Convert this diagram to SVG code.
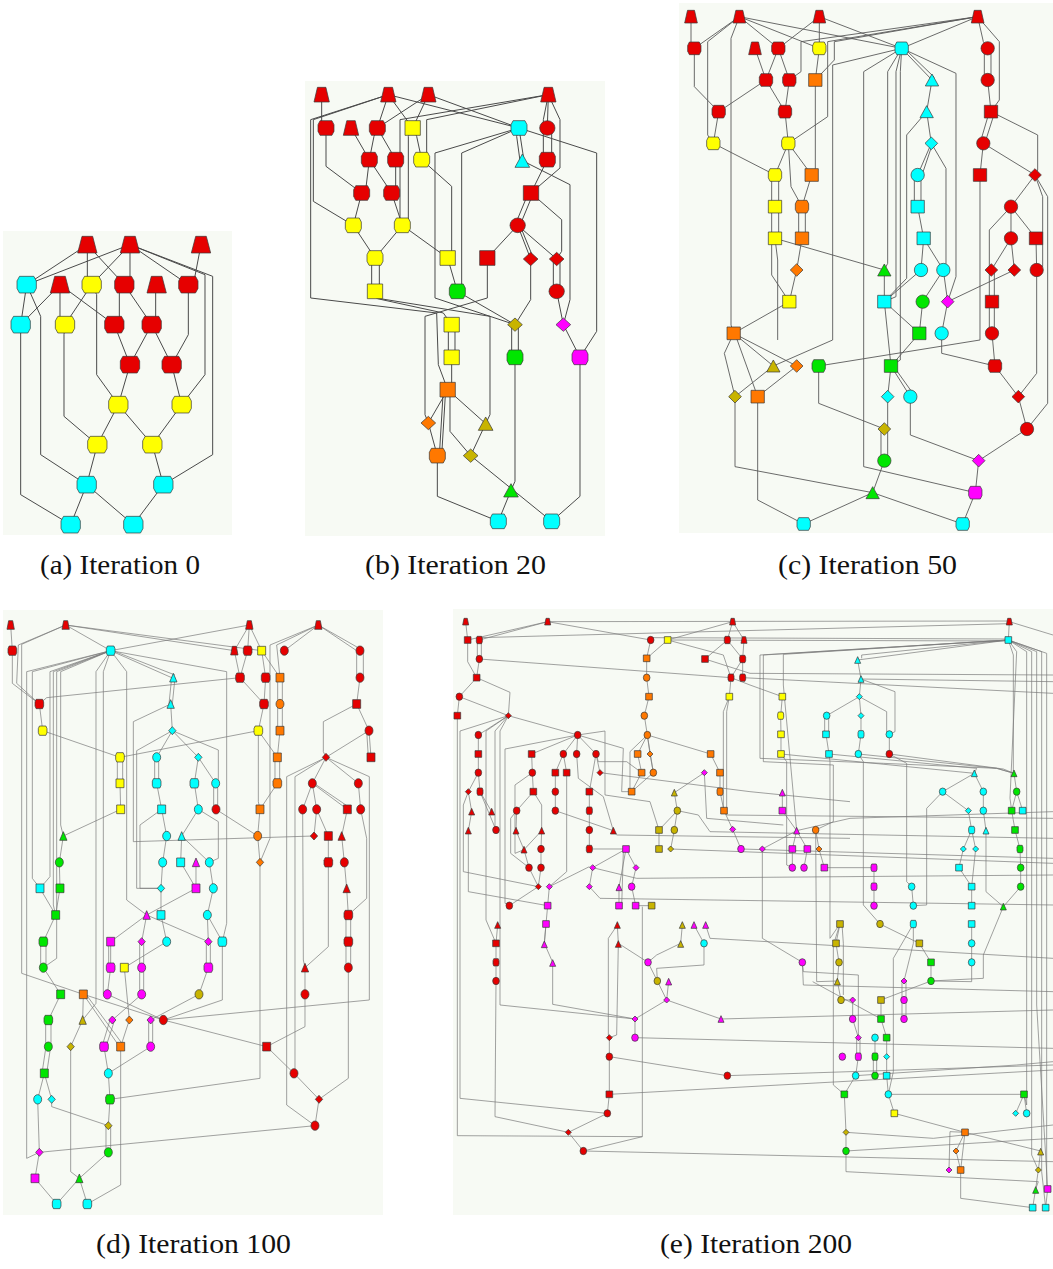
<svg xmlns="http://www.w3.org/2000/svg" xmlns:xlink="http://www.w3.org/1999/xlink" width="1053" height="1269" viewBox="0 0 1053 1269">
<style>
.bg{fill:#f7faf4}
.cap{font-family:"Liberation Serif","DejaVu Serif",serif;font-size:28px;fill:#111}
.ea polyline,.eb polyline{fill:none;stroke:#4a4a4a;stroke-width:1;vector-effect:non-scaling-stroke}
.ec polyline{fill:none;stroke:#5a5a5a;stroke-width:0.9;vector-effect:non-scaling-stroke}
.ed polyline,.ee polyline{fill:none;stroke:#7a7a7a;stroke-width:0.7;vector-effect:non-scaling-stroke}
.R{fill:#e60000}.Y{fill:#ffff00}.C{fill:#00ffff}.O{fill:#ff7800}.G{fill:#00e600}.M{fill:#ff00ff}.L{fill:#c8b400}
</style>
<defs>
<path id="bT" d="M-0.55,-1H0.55L1,1H-1Z" stroke="#3a3a3a" stroke-width="0.7" vector-effect="non-scaling-stroke"/>
<path id="bH" d="M-0.74,-1H0.74L1,-0.45V0.45L0.74,1H-0.74L-1,0.45V-0.45Z" stroke="#3a3a3a" stroke-width="0.7" vector-effect="non-scaling-stroke"/>
<rect id="bS" x="-1" y="-1" width="2" height="2" stroke="#3a3a3a" stroke-width="0.7" vector-effect="non-scaling-stroke"/>
<circle id="bC" r="1" stroke="#3a3a3a" stroke-width="0.7" vector-effect="non-scaling-stroke"/>
<path id="bD" d="M0,-1L1,0L0,1L-1,0Z" stroke="#3a3a3a" stroke-width="0.7" vector-effect="non-scaling-stroke"/>
<path id="bA" d="M0,-1L1,1H-1Z" stroke="#3a3a3a" stroke-width="0.7" vector-effect="non-scaling-stroke"/>
<use id="aT" href="#bT" transform="scale(29,25)"/>
<use id="aH" href="#bH" transform="scale(29,25)"/>
<use id="pT" href="#bT" transform="scale(23,22)"/>
<use id="pH" href="#bH" transform="scale(24,22)"/>
<use id="pS" href="#bS" transform="scale(23,22)"/>
<use id="pC" href="#bC" transform="scale(23,22)"/>
<use id="pD" href="#bD" transform="scale(22,20)"/>
<use id="pA" href="#bA" transform="scale(22,20)"/>
<use id="cT" href="#bT" transform="scale(19,19)"/>
<use id="cH" href="#bH" transform="scale(20,19)"/>
<use id="cS" href="#bS" transform="scale(20,19)"/>
<use id="cC" href="#bC" transform="scale(20,20)"/>
<use id="cD" href="#bD" transform="scale(19,19)"/>
<use id="cA" href="#bA" transform="scale(20,18)"/>
<use id="dT" href="#bT" transform="scale(11,13)"/>
<use id="dH" href="#bH" transform="scale(13,14)"/>
<use id="dS" href="#bS" transform="scale(12,13)"/>
<use id="dC" href="#bC" transform="scale(12,14)"/>
<use id="dD" href="#bD" transform="scale(11,12)"/>
<use id="dA" href="#bA" transform="scale(11,13)"/>
<use id="eT" href="#bT" transform="scale(9,10)"/>
<use id="eH" href="#bH" transform="scale(9,11)"/>
<use id="eS" href="#bS" transform="scale(10,10)"/>
<use id="eC" href="#bC" transform="scale(10,11)"/>
<use id="eD" href="#bD" transform="scale(9,9)"/>
<use id="eA" href="#bA" transform="scale(9,10)"/>
</defs>

<rect class="bg" x="3" y="231" width="229" height="304"/>
<rect class="bg" x="305" y="81" width="300" height="455"/>
<rect class="bg" x="679" y="3" width="374" height="530"/>
<rect class="bg" x="3" y="610" width="380" height="605"/>
<rect class="bg" x="453" y="609" width="600" height="606"/>

<!-- Panel A -->
<g id="panel-a" transform="translate(0,228) scale(0.3333333)">
<g id="edges-a" class="ea">
<polyline points="262,50 80,170"/><polyline points="390,50 80,170"/><polyline points="262,50 262,170"/><polyline points="262,50 373,170"/>
<polyline points="390,50 275,170"/><polyline points="390,50 390,170"/><polyline points="390,50 565,170"/>
<polyline points="390,50 615,140 615,440 545,530"/><polyline points="390,50 638,145 638,680 490,770"/>
<polyline points="603,50 580,170"/><polyline points="80,170 62,290"/><polyline points="80,170 122,265 122,680 260,770"/>
<polyline points="180,170 62,290"/><polyline points="180,170 180,290"/><polyline points="180,170 343,290"/>
<polyline points="275,170 195,290"/><polyline points="275,170 290,200 290,440 355,530"/>
<polyline points="358,170 358,290"/><polyline points="373,170 455,290"/><polyline points="467,170 467,290"/>
<polyline points="565,170 565,320 515,410"/><polyline points="62,290 62,800 212,890"/>
<polyline points="195,290 192,320 192,565 292,650"/><polyline points="343,290 390,410"/><polyline points="455,290 390,410"/>
<polyline points="455,290 515,410"/><polyline points="390,410 355,530"/><polyline points="515,410 545,530"/>
<polyline points="355,530 292,650"/><polyline points="355,530 457,650"/><polyline points="545,530 457,650"/>
<polyline points="292,650 260,770"/><polyline points="457,650 490,770"/><polyline points="260,770 212,890"/>
<polyline points="260,770 400,890"/><polyline points="490,770 400,890"/>
</g>
<g id="a1" class="R"><use href="#aT" x="262" y="50"/></g><g id="a2" class="R"><use href="#aT" x="390" y="50"/></g><g id="a3" class="R"><use href="#aT" x="603" y="50"/></g>
<g id="a4" class="C"><use href="#aH" x="80" y="170"/></g><g id="a5" class="R"><use href="#aT" x="180" y="170"/></g><g id="a6" class="Y"><use href="#aH" x="275" y="170"/></g>
<g id="a7" class="R"><use href="#aH" x="373" y="170"/></g><g id="a8" class="R"><use href="#aT" x="470" y="170"/></g><g id="a9" class="R"><use href="#aH" x="565" y="170"/></g>
<g id="a10" class="C"><use href="#aH" x="62" y="290"/></g><g id="a11" class="Y"><use href="#aH" x="195" y="290"/></g><g id="a12" class="R"><use href="#aH" x="343" y="290"/></g><g id="a13" class="R"><use href="#aH" x="455" y="290"/></g>
<g id="a14" class="R"><use href="#aH" x="390" y="410"/></g><g id="a15" class="R"><use href="#aH" x="515" y="410"/></g>
<g id="a16" class="Y"><use href="#aH" x="355" y="530"/></g><g id="a17" class="Y"><use href="#aH" x="545" y="530"/></g>
<g id="a18" class="Y"><use href="#aH" x="292" y="650"/></g><g id="a19" class="Y"><use href="#aH" x="457" y="650"/></g>
<g id="a20" class="C"><use href="#aH" x="260" y="770"/></g><g id="a21" class="C"><use href="#aH" x="490" y="770"/></g>
<g id="a22" class="C"><use href="#aH" x="212" y="890"/></g><g id="a23" class="C"><use href="#aH" x="400" y="890"/></g>
</g>

<!-- Panel B -->
<g id="panel-b" transform="translate(300,78) scale(0.3333333)">
<g id="edges-b" class="eb">
<polyline points="65,50 65,150"/><polyline points="265,50 32,125 32,660 410,705 415,860 443,935"/>
<polyline points="265,50 40,125 40,370 160,442"/><polyline points="265,50 232,150"/><polyline points="265,50 338,150"/>
<polyline points="265,50 657,150"/><polyline points="385,50 232,150"/><polyline points="385,50 338,150"/><polyline points="385,50 657,150"/>
<polyline points="745,50 300,125 300,425 307,442"/><polyline points="745,50 380,125 380,230 365,245"/>
<polyline points="745,50 742,150"/><polyline points="745,50 780,125 780,270 693,345"/>
<polyline points="745,50 730,125 730,245"/><polyline points="755,150 755,245"/>
<polyline points="657,150 650,175 660,248"/><polyline points="657,150 672,248"/>
<polyline points="657,150 405,225 405,660 645,740"/><polyline points="657,150 485,225 485,620 472,640"/>
<polyline points="657,150 890,225 890,760 840,838"/><polyline points="667,248 810,320 810,665 790,740"/>
<polyline points="742,245 693,345"/><polyline points="685,345 645,442"/><polyline points="700,345 660,442"/>
<polyline points="693,345 785,425 785,520 770,543"/><polyline points="653,442 562,540"/><polyline points="653,442 692,543"/>
<polyline points="660,442 700,540"/><polyline points="653,442 770,543"/><polyline points="760,543 760,640"/><polyline points="780,543 780,640"/>
<polyline points="770,640 790,740"/><polyline points="692,543 692,665 645,740"/>
<polyline points="562,540 562,660 375,715 375,1010 385,1035"/><polyline points="225,640 228,660 570,715 570,1010 557,1037"/>
<polyline points="225,640 232,662 430,705 455,740"/><polyline points="160,442 225,540"/><polyline points="307,442 225,540"/>
<polyline points="307,442 443,540"/><polyline points="215,540 215,640"/><polyline points="238,540 238,640"/>
<polyline points="443,540 472,640"/><polyline points="365,245 455,325 455,520 443,540"/>
<polyline points="338,150 325,175 325,425 307,442"/><polyline points="338,150 350,175 365,245"/>
<polyline points="232,150 222,175 208,245"/><polyline points="232,150 287,245"/><polyline points="153,150 208,245"/>
<polyline points="78,150 78,265 185,345"/><polyline points="208,245 196,345"/><polyline points="208,245 275,345"/>
<polyline points="287,245 287,345"/><polyline points="185,345 160,442"/><polyline points="275,345 307,442"/>
<polyline points="472,640 645,740"/><polyline points="635,740 635,838"/><polyline points="655,740 655,838"/>
<polyline points="645,838 645,1210 633,1237"/><polyline points="790,740 840,838"/><polyline points="840,838 840,1255 755,1330"/>
<polyline points="445,740 445,838"/><polyline points="465,740 465,838"/><polyline points="455,838 455,935"/>
<polyline points="443,935 385,1035"/><polyline points="430,935 418,1133"/><polyline points="437,935 425,1133"/>
<polyline points="443,935 557,1037"/><polyline points="450,935 450,1060 512,1133"/><polyline points="385,1035 412,1133"/>
<polyline points="557,1037 512,1133"/><polyline points="512,1133 755,1330"/><polyline points="412,1133 412,1255 595,1330"/>
<polyline points="633,1237 595,1330"/>
</g>
<g id="b1" class="R"><use href="#pT" x="65" y="50"/></g><g id="b2" class="R"><use href="#pT" x="265" y="50"/></g><g id="b3" class="R"><use href="#pT" x="385" y="50"/></g><g id="b4" class="R"><use href="#pT" x="745" y="50"/></g>
<g id="b5" class="R"><use href="#pH" x="78" y="150"/></g><g id="b6" class="R"><use href="#pT" x="153" y="150"/></g><g id="b7" class="R"><use href="#pH" x="232" y="150"/></g>
<g id="b8" class="Y"><use href="#pS" x="338" y="150"/></g><g id="b9" class="C"><use href="#pH" x="657" y="150"/></g><g id="b10" class="R"><use href="#pC" x="742" y="150"/></g>
<g id="b11" class="R"><use href="#pH" x="208" y="245"/></g><g id="b12" class="R"><use href="#pH" x="287" y="245"/></g><g id="b13" class="Y"><use href="#pH" x="365" y="245"/></g>
<g id="b14" class="C"><use href="#pA" x="667" y="248"/></g><g id="b15" class="R"><use href="#pH" x="742" y="245"/></g>
<g id="b16" class="R"><use href="#pH" x="185" y="345"/></g><g id="b17" class="R"><use href="#pH" x="275" y="345"/></g><g id="b18" class="R"><use href="#pS" x="693" y="345"/></g>
<g id="b19" class="Y"><use href="#pH" x="160" y="442"/></g><g id="b20" class="Y"><use href="#pH" x="307" y="442"/></g><g id="b21" class="R"><use href="#pC" x="653" y="442"/></g>
<g id="b22" class="Y"><use href="#pH" x="225" y="540"/></g><g id="b23" class="Y"><use href="#pS" x="443" y="540"/></g><g id="b24" class="R"><use href="#pS" x="562" y="540"/></g>
<g id="b25" class="R"><use href="#pD" x="692" y="543"/></g><g id="b26" class="R"><use href="#pD" x="770" y="543"/></g>
<g id="b27" class="Y"><use href="#pS" x="225" y="640"/></g><g id="b28" class="G"><use href="#pH" x="472" y="640"/></g><g id="b29" class="R"><use href="#pC" x="770" y="640"/></g>
<g id="b30" class="Y"><use href="#pS" x="455" y="740"/></g><g id="b31" class="L"><use href="#pD" x="645" y="740"/></g><g id="b32" class="M"><use href="#pD" x="790" y="740"/></g>
<g id="b33" class="Y"><use href="#pS" x="455" y="838"/></g><g id="b34" class="G"><use href="#pH" x="645" y="838"/></g><g id="b35" class="M"><use href="#pH" x="840" y="838"/></g>
<g id="b36" class="O"><use href="#pS" x="443" y="935"/></g>
<g id="b37" class="O"><use href="#pD" x="385" y="1035"/></g><g id="b38" class="L"><use href="#pA" x="557" y="1037"/></g>
<g id="b39" class="O"><use href="#pH" x="412" y="1133"/></g><g id="b40" class="L"><use href="#pD" x="512" y="1133"/></g>
<g id="b41" class="G"><use href="#pA" x="633" y="1237"/></g>
<g id="b42" class="C"><use href="#pH" x="595" y="1330"/></g><g id="b43" class="C"><use href="#pH" x="755" y="1330"/></g>
</g>

<!-- Panel C -->
<g id="panel-c" transform="translate(676,0) scale(0.3333333)">
<g id="edges-c" class="ec">
<polyline points="45,50 45,145"/><polyline points="190,50 55,145"/><polyline points="190,50 95,125 95,405 112,430"/>
<polyline points="190,50 165,115 165,975 173,1000"/><polyline points="190,50 307,145"/><polyline points="190,50 677,145"/>
<polyline points="190,50 430,145"/><polyline points="430,50 307,145"/><polyline points="430,50 430,145"/><polyline points="430,50 677,145"/>
<polyline points="905,50 475,125 475,180 418,240"/><polyline points="905,50 375,125 375,215 340,240"/>
<polyline points="905,50 455,125 455,350 337,430"/><polyline points="905,50 677,145"/><polyline points="905,50 922,125 935,145"/>
<polyline points="905,50 970,125 970,300 945,335"/><polyline points="925,145 925,240"/><polyline points="945,145 945,240"/>
<polyline points="935,240 945,335"/><polyline points="55,145 55,260 128,335"/><polyline points="237,145 270,240"/>
<polyline points="307,145 270,240"/><polyline points="307,145 340,240"/><polyline points="270,240 128,335"/>
<polyline points="270,240 327,335"/><polyline points="340,240 327,335"/><polyline points="128,335 112,430"/>
<polyline points="327,335 337,430"/><polyline points="430,145 418,240"/><polyline points="418,240 418,505 407,525"/>
<polyline points="112,430 297,525"/><polyline points="337,430 297,525"/><polyline points="337,430 407,525"/>
<polyline points="337,430 345,560 378,620"/><polyline points="287,525 287,620"/><polyline points="308,525 308,620"/>
<polyline points="287,620 287,715"/><polyline points="308,620 308,715"/><polyline points="407,525 378,620"/>
<polyline points="368,620 368,715"/><polyline points="388,620 388,715"/><polyline points="297,715 625,810"/>
<polyline points="297,715 287,735 287,825 340,905"/><polyline points="378,715 362,810"/><polyline points="362,810 340,905"/>
<polyline points="340,905 173,1000"/><polyline points="677,145 470,195 470,1020 292,1098"/>
<polyline points="677,145 563,215 563,1400 898,1478"/><polyline points="677,145 635,215 635,790 625,810"/>
<polyline points="677,145 660,215 660,890 625,905"/><polyline points="677,145 673,215 673,1080 645,1098"/>
<polyline points="677,145 768,240"/><polyline points="690,150 775,232"/><polyline points="677,145 840,220 840,830 815,905"/>
<polyline points="752,335 692,405 692,835 625,905"/><polyline points="766,430 810,505 810,790 802,810"/>
<polyline points="768,240 752,335"/><polyline points="752,335 766,430"/><polyline points="766,430 725,525"/><polyline points="770,430 738,525"/>
<polyline points="715,525 715,620"/><polyline points="735,525 735,620"/><polyline points="725,620 743,715"/>
<polyline points="743,715 735,810"/><polyline points="743,715 802,810"/><polyline points="735,810 625,905"/><polyline points="802,810 815,905"/>
<polyline points="740,905 730,1000"/><polyline points="625,905 645,1098"/><polyline points="625,905 730,1000"/>
<polyline points="730,1000 645,1098"/><polyline points="645,1098 635,1190"/><polyline points="645,1098 703,1190"/><polyline points="652,1098 712,1182"/>
<polyline points="428,1098 428,1210 625,1287"/><polyline points="635,1190 635,1287"/><polyline points="615,1287 615,1382"/><polyline points="635,1287 635,1382"/>
<polyline points="625,1382 590,1478"/><polyline points="703,1190 703,1305 908,1382"/><polyline points="908,1382 898,1478"/>
<polyline points="1053,1287 908,1382"/><polyline points="1027,1190 1053,1287"/><polyline points="957,1098 1027,1190"/>
<polyline points="940,335 912,430"/><polyline points="955,340 928,425"/><polyline points="945,335 1085,405 1085,510 1077,525"/>
<polyline points="922,430 912,525"/><polyline points="922,430 1077,525"/><polyline points="912,525 912,1020 428,1098"/>
<polyline points="1077,525 1005,620"/><polyline points="1077,525 1115,590 1115,1210 1053,1287"/><polyline points="1077,525 1100,590 1100,800 1082,810"/>
<polyline points="1005,620 1005,715"/><polyline points="1005,620 1080,715"/><polyline points="1005,620 940,690 940,815 946,810"/>
<polyline points="1005,715 946,810"/><polyline points="1005,715 1015,810"/><polyline points="1080,715 1082,810"/>
<polyline points="940,810 940,905"/><polyline points="955,810 955,905"/><polyline points="1015,810 815,905"/>
<polyline points="940,905 940,1000"/><polyline points="955,905 955,1000"/><polyline points="948,1000 957,1098"/>
<polyline points="1082,810 1082,1120 1027,1190"/><polyline points="815,905 797,1000"/>
<polyline points="625,810 625,905"/><polyline points="740,905 802,810"/><polyline points="173,1000 292,1098"/><polyline points="173,1000 362,1098"/>
<polyline points="173,1000 145,1060 177,1190"/><polyline points="180,1010 245,1190"/><polyline points="292,1098 177,1190"/>
<polyline points="362,1098 245,1190"/><polyline points="177,1190 177,1400 590,1478"/><polyline points="245,1190 245,1500 383,1572"/>
<polyline points="590,1478 383,1572"/><polyline points="590,1478 860,1572"/><polyline points="898,1478 860,1572"/>
<polyline points="797,1000 797,1060 957,1098"/><polyline points="305,1020 305,780 297,715"/>
</g>
<g id="c1" class="R"><use href="#cT" x="45" y="50"/></g><g id="c2" class="R"><use href="#cT" x="190" y="50"/></g><g id="c3" class="R"><use href="#cT" x="430" y="50"/></g><g id="c4" class="R"><use href="#cT" x="905" y="50"/></g>
<g id="c5" class="R"><use href="#cH" x="55" y="145"/></g><g id="c6" class="R"><use href="#cT" x="237" y="145"/></g><g id="c7" class="R"><use href="#cH" x="307" y="145"/></g>
<g id="c8" class="Y"><use href="#cH" x="430" y="145"/></g><g id="c9" class="C"><use href="#cH" x="677" y="145"/></g><g id="c10" class="R"><use href="#cC" x="935" y="145"/></g>
<g id="c11" class="R"><use href="#cH" x="270" y="240"/></g><g id="c12" class="R"><use href="#cH" x="340" y="240"/></g><g id="c13" class="O"><use href="#cS" x="418" y="240"/></g>
<g id="c14" class="C"><use href="#cA" x="768" y="240"/></g><g id="c15" class="R"><use href="#cC" x="935" y="240"/></g>
<g id="c16" class="R"><use href="#cH" x="128" y="335"/></g><g id="c17" class="R"><use href="#cH" x="327" y="335"/></g><g id="c18" class="C"><use href="#cA" x="752" y="335"/></g><g id="c19" class="R"><use href="#cS" x="945" y="335"/></g>
<g id="c20" class="Y"><use href="#cH" x="112" y="430"/></g><g id="c21" class="Y"><use href="#cH" x="337" y="430"/></g><g id="c22" class="C"><use href="#cD" x="766" y="430"/></g><g id="c23" class="R"><use href="#cC" x="922" y="430"/></g>
<g id="c24" class="Y"><use href="#cH" x="297" y="525"/></g><g id="c25" class="O"><use href="#cS" x="407" y="525"/></g><g id="c26" class="C"><use href="#cC" x="725" y="525"/></g>
<g id="c27" class="R"><use href="#cS" x="912" y="525"/></g><g id="c28" class="R"><use href="#cD" x="1077" y="525"/></g>
<g id="c29" class="Y"><use href="#cS" x="297" y="620"/></g><g id="c30" class="O"><use href="#cH" x="378" y="620"/></g><g id="c31" class="C"><use href="#cS" x="725" y="620"/></g><g id="c32" class="R"><use href="#cC" x="1005" y="620"/></g>
<g id="c33" class="Y"><use href="#cS" x="297" y="715"/></g><g id="c34" class="O"><use href="#cS" x="378" y="715"/></g><g id="c35" class="C"><use href="#cS" x="743" y="715"/></g>
<g id="c36" class="R"><use href="#cC" x="1005" y="715"/></g><g id="c37" class="R"><use href="#cS" x="1080" y="715"/></g>
<g id="c38" class="O"><use href="#cD" x="362" y="810"/></g><g id="c39" class="G"><use href="#cA" x="625" y="810"/></g><g id="c40" class="C"><use href="#cC" x="735" y="810"/></g>
<g id="c41" class="C"><use href="#cC" x="802" y="810"/></g><g id="c42" class="R"><use href="#cD" x="946" y="810"/></g><g id="c43" class="R"><use href="#cD" x="1015" y="810"/></g><g id="c44" class="R"><use href="#cC" x="1082" y="810"/></g>
<g id="c45" class="Y"><use href="#cS" x="340" y="905"/></g><g id="c46" class="C"><use href="#cS" x="625" y="905"/></g><g id="c47" class="G"><use href="#cC" x="740" y="905"/></g>
<g id="c48" class="M"><use href="#cD" x="815" y="905"/></g><g id="c49" class="R"><use href="#cS" x="948" y="905"/></g>
<g id="c50" class="O"><use href="#cS" x="173" y="1000"/></g><g id="c51" class="G"><use href="#cS" x="730" y="1000"/></g><g id="c52" class="C"><use href="#cC" x="797" y="1000"/></g><g id="c53" class="R"><use href="#cC" x="948" y="1000"/></g>
<g id="c54" class="L"><use href="#cA" x="292" y="1098"/></g><g id="c55" class="O"><use href="#cD" x="362" y="1098"/></g><g id="c56" class="G"><use href="#cH" x="428" y="1098"/></g>
<g id="c57" class="G"><use href="#cS" x="645" y="1098"/></g><g id="c58" class="R"><use href="#cH" x="957" y="1098"/></g>
<g id="c59" class="L"><use href="#cD" x="177" y="1190"/></g><g id="c60" class="O"><use href="#cS" x="245" y="1190"/></g><g id="c61" class="C"><use href="#cD" x="635" y="1190"/></g>
<g id="c62" class="C"><use href="#cC" x="703" y="1190"/></g><g id="c63" class="R"><use href="#cD" x="1027" y="1190"/></g>
<g id="c64" class="L"><use href="#cD" x="625" y="1287"/></g><g id="c65" class="R"><use href="#cC" x="1053" y="1287"/></g>
<g id="c66" class="G"><use href="#cC" x="625" y="1382"/></g><g id="c67" class="M"><use href="#cD" x="908" y="1382"/></g>
<g id="c68" class="G"><use href="#cA" x="590" y="1478"/></g><g id="c69" class="M"><use href="#cH" x="898" y="1478"/></g>
<g id="c70" class="C"><use href="#cH" x="383" y="1572"/></g><g id="c71" class="C"><use href="#cH" x="860" y="1572"/></g>
</g>

<!-- Panel D -->
<g id="panel-d" transform="translate(0,605) scale(0.3333333)">
<g id="edges-d" class="ed">
<polyline points="32,60 37,137"/><polyline points="37,137 37,235 118,297"/><polyline points="197,60 65,118 65,1105 250,1168"/>
<polyline points="197,60 55,120 50,235 118,297"/><polyline points="197,60 332,137"/><polyline points="197,60 785,137"/><polyline points="197,60 703,137"/>
<polyline points="332,137 80,200 80,1660 118,1642"/><polyline points="332,137 97,200 97,820 120,850"/>
<polyline points="332,137 150,200 150,815 120,850"/><polyline points="332,137 160,200 160,900 167,930"/>
<polyline points="332,137 170,200 170,1060 130,1088"/><polyline points="332,137 182,200 182,660 190,693"/>
<polyline points="332,137 288,200 288,1195 248,1245"/><polyline points="332,137 310,200 310,1165 322,1168"/>
<polyline points="332,137 380,200 380,885 440,930"/><polyline points="332,137 515,218"/><polyline points="338,137 525,210"/>
<polyline points="332,137 680,200 680,955 667,1010"/><polyline points="748,60 332,137"/><polyline points="748,60 703,137"/>
<polyline points="748,60 743,137"/><polyline points="748,60 785,137"/><polyline points="955,60 853,137"/>
<polyline points="955,60 830,120 840,218"/><polyline points="955,60 810,120 810,700 780,772"/>
<polyline points="955,60 1070,137"/><polyline points="955,60 1090,137"/><polyline points="1070,137 1070,218"/><polyline points="1090,137 1090,218"/>
<polyline points="1080,218 1070,297"/><polyline points="1070,297 970,350 970,440 978,457"/><polyline points="1070,297 1107,377"/>
<polyline points="1107,377 1113,457"/><polyline points="1100,377 1105,457"/><polyline points="1107,377 978,457"/>
<polyline points="978,457 937,535"/><polyline points="978,457 1075,535"/><polyline points="978,457 860,515 860,1500 945,1562"/>
<polyline points="978,457 885,515 885,1390 882,1405"/><polyline points="978,457 1108,515 1108,1185 490,1245"/>
<polyline points="937,535 908,613"/><polyline points="937,535 950,613"/><polyline points="937,535 1042,613"/><polyline points="942,535 1045,605"/>
<polyline points="1075,535 1082,613"/><polyline points="1082,613 1100,700 1100,880 1045,930"/>
<polyline points="950,613 942,693"/><polyline points="950,613 985,693"/><polyline points="1042,613 1025,693"/>
<polyline points="985,693 985,772"/><polyline points="1025,693 1033,772"/><polyline points="1033,772 1040,850"/>
<polyline points="1040,850 1045,930"/><polyline points="1038,930 1038,1010"/><polyline points="1052,930 1052,1010"/>
<polyline points="1038,1010 1038,1088"/><polyline points="1052,1010 1052,1088"/><polyline points="908,613 910,1065 915,1088"/>
<polyline points="985,772 985,1025 915,1088"/><polyline points="915,1088 915,1168"/><polyline points="915,1168 915,1265 800,1325"/>
<polyline points="1045,1088 1045,1420 957,1483"/><polyline points="800,1325 490,1245"/><polyline points="800,1325 882,1405"/>
<polyline points="882,1405 957,1483"/><polyline points="957,1483 945,1562"/><polyline points="945,1562 118,1642"/>
<polyline points="785,137 840,218"/><polyline points="785,137 797,218"/><polyline points="720,218 792,297"/><polyline points="743,137 720,218"/>
<polyline points="703,137 720,218"/><polyline points="797,218 792,297"/><polyline points="833,218 833,297"/><polyline points="847,218 847,297"/>
<polyline points="833,297 833,377"/><polyline points="847,297 847,377"/><polyline points="792,297 775,377"/><polyline points="775,377 832,457"/>
<polyline points="840,377 832,457"/><polyline points="825,457 825,535"/><polyline points="839,457 839,535"/><polyline points="832,535 780,613"/>
<polyline points="775,377 775,590 780,613"/><polyline points="780,613 773,693"/><polyline points="773,693 780,772"/>
<polyline points="780,772 780,1420 330,1483"/><polyline points="720,218 140,278 118,297"/><polyline points="118,297 128,377"/>
<polyline points="775,377 360,457"/><polyline points="128,377 360,457"/><polyline points="352,457 352,535"/><polyline points="368,457 368,535"/>
<polyline points="360,535 362,613"/><polyline points="362,613 190,693"/><polyline points="190,693 178,772"/><polyline points="178,772 180,850"/>
<polyline points="120,850 167,930"/><polyline points="180,850 167,930"/><polyline points="167,930 130,1010"/>
<polyline points="122,1010 122,1088"/><polyline points="138,1010 138,1088"/><polyline points="130,1088 182,1168"/><polyline points="182,1168 145,1245"/>
<polyline points="137,1245 137,1325"/><polyline points="153,1245 153,1325"/><polyline points="138,1325 126,1405"/><polyline points="152,1325 140,1405"/>
<polyline points="133,1405 113,1483"/><polyline points="133,1405 155,1483"/><polyline points="113,1483 118,1642"/>
<polyline points="155,1483 155,1505 325,1562"/><polyline points="118,1642 105,1720"/><polyline points="105,1720 170,1797"/>
<polyline points="238,1720 170,1797"/><polyline points="238,1720 262,1797"/><polyline points="325,1642 238,1720"/>
<polyline points="318,1562 318,1642"/><polyline points="332,1562 332,1642"/><polyline points="330,1483 325,1562"/>
<polyline points="325,1405 330,1483"/><polyline points="312,1325 325,1405"/><polyline points="452,1325 325,1405"/>
<polyline points="362,1325 362,1740 262,1797"/><polyline points="250,1168 248,1245"/><polyline points="248,1245 212,1325"/>
<polyline points="212,1325 212,1700 238,1720"/><polyline points="250,1168 355,1320"/><polyline points="258,1168 368,1318"/>
<polyline points="250,1168 490,1245"/><polyline points="332,1010 332,1088"/><polyline points="326,1010 326,1088"/>
<polyline points="332,1088 322,1168"/><polyline points="419,1010 419,1088"/><polyline points="431,1010 431,1088"/>
<polyline points="419,1088 419,1168"/><polyline points="431,1088 431,1168"/><polyline points="425,1168 337,1245"/>
<polyline points="330,1245 306,1325"/><polyline points="344,1245 318,1325"/><polyline points="388,1245 362,1325"/>
<polyline points="446,1245 446,1325"/><polyline points="458,1245 458,1325"/><polyline points="619,1010 619,1088"/><polyline points="631,1010 631,1088"/>
<polyline points="625,1088 597,1168"/><polyline points="597,1168 452,1245"/><polyline points="322,1168 490,1245"/>
<polyline points="500,1010 373,1088"/><polyline points="440,930 425,1010"/><polyline points="440,930 332,1010"/><polyline points="440,930 625,1010"/>
<polyline points="483,930 500,1010"/><polyline points="588,850 440,930"/><polyline points="588,772 588,850"/>
<polyline points="628,772 640,850"/><polyline points="640,850 622,930"/><polyline points="622,930 625,1010"/><polyline points="622,930 667,1010"/>
<polyline points="667,1010 667,1185 490,1245"/><polyline points="373,1088 388,1245"/>
<polyline points="515,218 507,297"/><polyline points="525,218 517,297"/><polyline points="512,297 517,377"/><polyline points="517,377 470,457"/>
<polyline points="517,377 595,457"/><polyline points="517,377 655,435 655,535"/><polyline points="517,377 410,437 410,850 483,850"/>
<polyline points="464,457 464,535"/><polyline points="476,457 476,535"/><polyline points="470,535 485,613"/><polyline points="595,457 583,535"/>
<polyline points="595,457 647,535"/><polyline points="641,535 641,613"/><polyline points="653,535 653,613"/><polyline points="583,535 595,613"/>
<polyline points="648,613 773,693"/><polyline points="485,613 500,693"/><polyline points="485,613 420,660 420,850 483,850"/>
<polyline points="595,613 545,693"/><polyline points="595,613 655,650 655,760 628,772"/><polyline points="545,693 542,772"/>
<polyline points="545,693 628,772"/><polyline points="500,693 488,772"/><polyline points="488,772 483,850"/><polyline points="483,850 483,930"/>
<polyline points="512,297 400,350 400,710 942,693"/><polyline points="542,772 588,850"/>
</g>
<g id="d1" class="R"><use href="#dT" x="32" y="60"/></g><g id="d2" class="R"><use href="#dT" x="197" y="60"/></g><g id="d3" class="R"><use href="#dT" x="748" y="60"/></g><g id="d4" class="R"><use href="#dT" x="955" y="60"/></g>
<g id="d5" class="R"><use href="#dH" x="37" y="137"/></g><g id="d6" class="C"><use href="#dH" x="332" y="137"/></g><g id="d7" class="R"><use href="#dT" x="703" y="137"/></g>
<g id="d8" class="R"><use href="#dH" x="743" y="137"/></g><g id="d9" class="Y"><use href="#dS" x="785" y="137"/></g><g id="d10" class="R"><use href="#dC" x="853" y="137"/></g><g id="d11" class="R"><use href="#dC" x="1080" y="137"/></g>
<g id="d12" class="C"><use href="#dA" x="520" y="218"/></g><g id="d13" class="R"><use href="#dH" x="720" y="218"/></g><g id="d14" class="R"><use href="#dH" x="797" y="218"/></g>
<g id="d15" class="O"><use href="#dS" x="840" y="218"/></g><g id="d16" class="R"><use href="#dC" x="1080" y="218"/></g>
<g id="d17" class="R"><use href="#dH" x="118" y="297"/></g><g id="d18" class="C"><use href="#dA" x="512" y="297"/></g><g id="d19" class="R"><use href="#dH" x="792" y="297"/></g>
<g id="d20" class="O"><use href="#dC" x="840" y="297"/></g><g id="d21" class="R"><use href="#dS" x="1070" y="297"/></g>
<g id="d22" class="Y"><use href="#dH" x="128" y="377"/></g><g id="d23" class="C"><use href="#dD" x="517" y="377"/></g><g id="d24" class="Y"><use href="#dH" x="775" y="377"/></g>
<g id="d25" class="O"><use href="#dS" x="840" y="377"/></g><g id="d26" class="R"><use href="#dC" x="1107" y="377"/></g>
<g id="d27" class="Y"><use href="#dH" x="360" y="457"/></g><g id="d28" class="C"><use href="#dC" x="470" y="457"/></g><g id="d29" class="C"><use href="#dD" x="595" y="457"/></g>
<g id="d30" class="O"><use href="#dS" x="832" y="457"/></g><g id="d31" class="R"><use href="#dD" x="978" y="457"/></g><g id="d32" class="R"><use href="#dS" x="1113" y="457"/></g>
<g id="d33" class="Y"><use href="#dS" x="360" y="535"/></g><g id="d34" class="C"><use href="#dH" x="470" y="535"/></g><g id="d35" class="C"><use href="#dH" x="583" y="535"/></g>
<g id="d36" class="C"><use href="#dC" x="647" y="535"/></g><g id="d37" class="O"><use href="#dH" x="832" y="535"/></g><g id="d38" class="R"><use href="#dC" x="937" y="535"/></g><g id="d39" class="R"><use href="#dC" x="1075" y="535"/></g>
<g id="d40" class="Y"><use href="#dS" x="362" y="613"/></g><g id="d41" class="C"><use href="#dS" x="485" y="613"/></g><g id="d42" class="C"><use href="#dC" x="595" y="613"/></g>
<g id="d43" class="R"><use href="#dC" x="648" y="613"/></g><g id="d44" class="O"><use href="#dS" x="780" y="613"/></g><g id="d45" class="R"><use href="#dC" x="908" y="613"/></g>
<g id="d46" class="R"><use href="#dC" x="950" y="613"/></g><g id="d47" class="R"><use href="#dS" x="1042" y="613"/></g><g id="d48" class="R"><use href="#dC" x="1082" y="613"/></g>
<g id="d49" class="G"><use href="#dA" x="190" y="693"/></g><g id="d50" class="C"><use href="#dC" x="500" y="693"/></g><g id="d51" class="C"><use href="#dA" x="545" y="693"/></g>
<g id="d52" class="O"><use href="#dC" x="773" y="693"/></g><g id="d53" class="R"><use href="#dD" x="942" y="693"/></g><g id="d54" class="R"><use href="#dS" x="985" y="693"/></g><g id="d55" class="R"><use href="#dA" x="1025" y="693"/></g>
<g id="d56" class="G"><use href="#dC" x="178" y="772"/></g><g id="d57" class="C"><use href="#dC" x="488" y="772"/></g><g id="d58" class="C"><use href="#dS" x="542" y="772"/></g>
<g id="d59" class="M"><use href="#dA" x="588" y="772"/></g><g id="d60" class="C"><use href="#dC" x="628" y="772"/></g><g id="d61" class="O"><use href="#dD" x="780" y="772"/></g>
<g id="d62" class="R"><use href="#dH" x="985" y="772"/></g><g id="d63" class="R"><use href="#dC" x="1033" y="772"/></g>
<g id="d64" class="C"><use href="#dS" x="120" y="850"/></g><g id="d65" class="G"><use href="#dS" x="180" y="850"/></g><g id="d66" class="C"><use href="#dD" x="483" y="850"/></g>
<g id="d67" class="M"><use href="#dS" x="588" y="850"/></g><g id="d68" class="C"><use href="#dC" x="640" y="850"/></g><g id="d69" class="R"><use href="#dA" x="1040" y="850"/></g>
<g id="d70" class="G"><use href="#dS" x="167" y="930"/></g><g id="d71" class="M"><use href="#dA" x="440" y="930"/></g><g id="d72" class="C"><use href="#dS" x="483" y="930"/></g>
<g id="d73" class="C"><use href="#dC" x="622" y="930"/></g><g id="d74" class="R"><use href="#dH" x="1045" y="930"/></g>
<g id="d75" class="G"><use href="#dH" x="130" y="1010"/></g><g id="d76" class="M"><use href="#dS" x="332" y="1010"/></g><g id="d77" class="M"><use href="#dD" x="425" y="1010"/></g>
<g id="d78" class="C"><use href="#dC" x="500" y="1010"/></g><g id="d79" class="M"><use href="#dD" x="625" y="1010"/></g><g id="d80" class="C"><use href="#dH" x="667" y="1010"/></g><g id="d81" class="R"><use href="#dH" x="1045" y="1010"/></g>
<g id="d82" class="G"><use href="#dC" x="130" y="1088"/></g><g id="d83" class="M"><use href="#dH" x="332" y="1088"/></g><g id="d84" class="Y"><use href="#dS" x="373" y="1088"/></g>
<g id="d85" class="M"><use href="#dC" x="425" y="1088"/></g><g id="d86" class="M"><use href="#dH" x="625" y="1088"/></g><g id="d87" class="R"><use href="#dA" x="915" y="1088"/></g><g id="d88" class="R"><use href="#dC" x="1045" y="1088"/></g>
<g id="d89" class="G"><use href="#dS" x="182" y="1168"/></g><g id="d90" class="O"><use href="#dS" x="250" y="1168"/></g><g id="d91" class="M"><use href="#dC" x="322" y="1168"/></g>
<g id="d92" class="M"><use href="#dC" x="425" y="1168"/></g><g id="d93" class="L"><use href="#dC" x="597" y="1168"/></g><g id="d94" class="R"><use href="#dC" x="915" y="1168"/></g>
<g id="d95" class="G"><use href="#dH" x="145" y="1245"/></g><g id="d96" class="L"><use href="#dA" x="248" y="1245"/></g><g id="d97" class="M"><use href="#dD" x="337" y="1245"/></g>
<g id="d98" class="O"><use href="#dD" x="388" y="1245"/></g><g id="d99" class="M"><use href="#dD" x="452" y="1245"/></g><g id="d100" class="R"><use href="#dC" x="490" y="1245"/></g>
<g id="d101" class="G"><use href="#dC" x="145" y="1325"/></g><g id="d102" class="L"><use href="#dD" x="212" y="1325"/></g><g id="d103" class="M"><use href="#dH" x="312" y="1325"/></g>
<g id="d104" class="O"><use href="#dS" x="362" y="1325"/></g><g id="d105" class="M"><use href="#dC" x="452" y="1325"/></g><g id="d106" class="R"><use href="#dS" x="800" y="1325"/></g>
<g id="d107" class="G"><use href="#dS" x="133" y="1405"/></g><g id="d108" class="C"><use href="#dC" x="325" y="1405"/></g><g id="d109" class="R"><use href="#dC" x="882" y="1405"/></g>
<g id="d110" class="C"><use href="#dC" x="113" y="1483"/></g><g id="d111" class="C"><use href="#dD" x="155" y="1483"/></g><g id="d112" class="G"><use href="#dH" x="330" y="1483"/></g><g id="d113" class="R"><use href="#dD" x="957" y="1483"/></g>
<g id="d114" class="L"><use href="#dD" x="325" y="1562"/></g><g id="d115" class="R"><use href="#dC" x="945" y="1562"/></g>
<g id="d116" class="M"><use href="#dD" x="118" y="1642"/></g><g id="d117" class="G"><use href="#dC" x="325" y="1642"/></g>
<g id="d118" class="M"><use href="#dS" x="105" y="1720"/></g><g id="d119" class="G"><use href="#dA" x="238" y="1720"/></g>
<g id="d120" class="C"><use href="#dH" x="170" y="1797"/></g><g id="d121" class="C"><use href="#dH" x="262" y="1797"/></g>
</g>

<!-- Panel E -->
<g id="panel-e" transform="translate(450,605) scale(0.3333333)">
<g id="edges-e" class="ee">
<polyline points="47,50 53,105"/><polyline points="293,50 53,105"/><polyline points="293,50 88,105"/><polyline points="293,50 602,105"/>
<polyline points="293,50 1678,48"/><polyline points="88,98 1678,56"/><polyline points="602,98 1675,102"/><polyline points="653,105 1675,108"/>
<polyline points="848,50 653,105"/><polyline points="848,50 832,105"/><polyline points="848,50 882,105"/><polyline points="1678,50 1809,90"/>
<polyline points="1678,50 1675,105"/><polyline points="53,105 53,170 80,218"/><polyline points="82,105 82,162"/><polyline points="94,105 94,162"/>
<polyline points="88,162 843,218"/><polyline points="88,162 80,218"/><polyline points="80,218 28,275"/><polyline points="80,218 180,262 175,332"/>
<polyline points="28,275 22,332"/><polyline points="28,275 175,332"/><polyline points="175,332 30,378 30,1480 470,1525"/>
<polyline points="175,332 85,390"/><polyline points="175,332 108,378 108,945 138,1015"/><polyline points="175,332 135,378 135,675"/>
<polyline points="175,332 150,378 150,1200 555,1242"/><polyline points="175,332 383,390"/><polyline points="22,332 22,1592 577,1595"/>
<polyline points="85,390 85,447"/><polyline points="85,447 85,503"/><polyline points="85,503 55,560"/><polyline points="85,503 90,560"/>
<polyline points="55,560 65,620"/><polyline points="55,560 40,600 40,800 265,845"/><polyline points="65,620 55,677"/><polyline points="90,560 125,620"/>
<polyline points="90,560 138,675"/><polyline points="55,677 55,860 293,902"/><polyline points="383,390 245,447"/><polyline points="383,390 340,447"/>
<polyline points="383,390 380,447"/><polyline points="383,390 438,447"/><polyline points="383,390 165,432 165,895 178,902"/>
<polyline points="383,390 465,378 465,570 600,590 627,675"/><polyline points="383,390 520,430 515,560 545,560"/>
<polyline points="245,447 247,503"/><polyline points="247,503 250,560"/><polyline points="247,503 195,540 195,745 222,734"/>
<polyline points="250,560 200,617"/><polyline points="250,560 275,600 275,677"/><polyline points="200,617 198,677"/><polyline points="200,617 182,640 182,745 237,788"/>
<polyline points="198,677 222,734"/><polyline points="275,677 222,734"/><polyline points="275,677 273,732"/><polyline points="273,732 273,788"/>
<polyline points="222,734 237,788"/><polyline points="237,788 265,845"/><polyline points="273,788 265,845"/><polyline points="265,845 178,902"/>
<polyline points="298,845 293,902"/><polyline points="293,902 288,957"/><polyline points="288,957 283,1015"/><polyline points="283,1015 308,1072"/>
<polyline points="340,447 316,503"/><polyline points="340,447 350,503"/><polyline points="316,503 316,560"/><polyline points="316,560 316,617"/>
<polyline points="316,617 490,677"/><polyline points="350,503 350,800 298,845"/><polyline points="380,447 385,520 460,575 490,677"/>
<polyline points="438,447 450,503"/><polyline points="438,447 418,560"/><polyline points="418,560 418,617"/><polyline points="418,617 418,675"/>
<polyline points="418,675 418,732"/><polyline points="450,503 900,560 1200,590"/><polyline points="438,447 445,470 530,470 575,503"/>
<polyline points="602,105 590,160"/><polyline points="653,105 590,160"/><polyline points="590,160 590,218"/><polyline points="590,218 597,275"/>
<polyline points="597,275 583,332"/><polyline points="583,332 592,390"/><polyline points="592,390 563,447"/><polyline points="592,390 600,447"/>
<polyline points="592,390 610,503"/><polyline points="592,390 782,447"/><polyline points="592,390 540,440 540,560 545,560"/>
<polyline points="563,447 575,503"/><polyline points="600,447 610,503"/><polyline points="575,503 545,560"/><polyline points="610,503 545,560"/>
<polyline points="782,447 810,503"/><polyline points="810,503 810,560"/><polyline points="810,560 822,617"/><polyline points="653,105 820,150 843,218"/>
<polyline points="832,105 765,162"/><polyline points="832,105 878,162"/><polyline points="882,105 878,162"/><polyline points="878,162 843,218"/>
<polyline points="878,162 878,218"/><polyline points="843,218 838,275"/><polyline points="838,275 820,320 820,610 822,617"/>
<polyline points="838,275 830,320 830,630 1809,640"/><polyline points="765,162 900,205 1809,210"/><polyline points="878,218 1809,265"/>
<polyline points="763,503 673,563"/><polyline points="763,503 770,640 1000,660"/><polyline points="673,563 682,617"/><polyline points="682,617 627,675"/>
<polyline points="682,617 673,675"/><polyline points="682,617 745,630 780,680 1809,700"/><polyline points="627,675 627,732"/><polyline points="673,675 662,732"/>
<polyline points="848,673 873,732"/><polyline points="822,617 848,673"/><polyline points="528,732 428,788"/><polyline points="528,732 558,788"/>
<polyline points="528,732 507,847"/><polyline points="520,740 515,905"/><polyline points="558,788 545,845"/><polyline points="545,845 557,902"/>
<polyline points="507,847 507,902"/><polyline points="428,788 418,845"/><polyline points="428,788 560,820 1809,810"/><polyline points="298,845 418,785"/>
<polyline points="418,732 528,732"/><polyline points="418,845 450,880 1809,900"/><polyline points="873,732 1809,760"/>
<polyline points="490,677 500,690 1200,700"/><polyline points="662,732 1809,775"/><polyline points="557,902 605,902"/>
<polyline points="1675,105 930,150 930,460 1300,475 1640,490 1692,505"/><polyline points="1675,105 940,150 940,470 1150,480 1150,650 1097,675"/>
<polyline points="1675,105 1000,148 1000,240 1040,677"/><polyline points="1675,105 1223,165"/><polyline points="1675,105 1235,150 1235,160"/>
<polyline points="1675,105 1690,150 1690,500"/><polyline points="1675,105 1700,140 1680,580 1685,617"/><polyline points="1675,105 1730,140 1730,1500 1722,1468"/>
<polyline points="1675,105 1745,140 1745,1650 1765,1695"/><polyline points="1675,105 1760,140 1760,1200 1793,1752"/>
<polyline points="1675,105 1775,140 1775,1700 1787,1808"/><polyline points="1675,105 1790,145 1790,1740 1793,1752"/>
<polyline points="1223,165 1233,222"/><polyline points="1233,222 1228,275"/><polyline points="1233,222 1335,260 1335,380 1318,388"/>
<polyline points="1233,222 1809,230"/><polyline points="1228,275 1130,332"/><polyline points="1228,275 1233,332"/><polyline points="1228,275 1310,320 1310,380 1318,388"/>
<polyline points="1124,332 1124,388"/><polyline points="1136,332 1136,388"/><polyline points="1128,388 1137,447"/><polyline points="1233,332 1233,388"/>
<polyline points="1233,388 1225,447"/><polyline points="1318,388 1318,447"/><polyline points="997,275 992,332"/><polyline points="992,332 993,388"/>
<polyline points="993,388 993,447"/><polyline points="843,218 900,240 997,275"/><polyline points="993,447 1573,505"/><polyline points="1137,447 1580,490 1573,505"/>
<polyline points="1225,447 1640,490 1692,505"/><polyline points="1318,447 1660,492 1692,505"/><polyline points="993,447 1010,470 1010,780 1027,788"/>
<polyline points="1137,447 1140,470 1140,1000 1170,957"/><polyline points="1225,447 1240,470 1240,900 1290,957"/><polyline points="1318,447 1370,475 1370,830 1385,845"/>
<polyline points="1573,505 1478,560"/><polyline points="1573,505 1600,560"/><polyline points="1478,560 1555,617"/><polyline points="1478,560 1430,610 1430,900 1390,902"/>
<polyline points="1600,560 1600,617"/><polyline points="1555,617 1565,675"/><polyline points="1600,617 1608,677"/><polyline points="1565,675 1540,732"/>
<polyline points="1565,675 1577,732"/><polyline points="1540,732 1527,788"/><polyline points="1577,732 1565,845"/><polyline points="1527,788 1565,845"/>
<polyline points="1565,845 1565,902"/><polyline points="1608,677 1608,860 1660,905"/><polyline points="1692,505 1700,560"/><polyline points="1700,560 1685,617"/>
<polyline points="1700,560 1718,617"/><polyline points="1685,617 1695,675"/><polyline points="1695,675 1710,732"/><polyline points="1710,732 1712,788"/>
<polyline points="1712,788 1712,845"/><polyline points="1712,845 1660,905"/><polyline points="997,563 997,617"/><polyline points="997,617 1040,677"/>
<polyline points="1040,677 937,732"/><polyline points="1040,677 1027,732"/><polyline points="1040,677 1072,732"/><polyline points="1027,732 1027,788"/>
<polyline points="1072,732 1062,788"/><polyline points="1097,675 1107,732"/><polyline points="1107,732 1123,788"/><polyline points="1123,788 1272,788"/>
<polyline points="1272,788 1272,845"/><polyline points="1272,845 1272,902"/><polyline points="1385,845 1390,902"/><polyline points="1040,677 1200,640 1809,620"/>
<polyline points="937,732 937,1000 1057,1072"/><polyline points="143,960 138,1015"/><polyline points="138,1015 138,1072"/><polyline points="138,1072 138,1128"/>
<polyline points="138,1128 135,1535 355,1582"/><polyline points="288,957 283,1015"/><polyline points="308,1072 308,1198 555,1242"/>
<polyline points="502,960 505,1015"/><polyline points="502,960 475,1000 475,1290 478,1298"/><polyline points="505,1015 500,1290 478,1298"/>
<polyline points="505,1015 594,1072"/><polyline points="594,1072 622,1128"/><polyline points="622,1128 650,1185"/><polyline points="656,1128 650,1185"/>
<polyline points="650,1185 555,1242"/><polyline points="555,1242 555,1298"/><polyline points="555,1298 1809,1330"/><polyline points="478,1298 478,1355"/>
<polyline points="478,1355 832,1412"/><polyline points="478,1355 478,1468"/><polyline points="832,1412 1809,1380"/><polyline points="478,1468 1809,1395"/>
<polyline points="478,1468 472,1525"/><polyline points="472,1525 355,1582"/><polyline points="355,1582 400,1638"/><polyline points="400,1638 577,1595 577,905"/>
<polyline points="400,1638 1809,1670"/><polyline points="697,960 692,1015"/><polyline points="732,960 762,1015"/><polyline points="762,1015 762,1080 620,1090 622,1128"/>
<polyline points="692,1015 620,1050 594,1072"/><polyline points="767,960 780,1000 1809,1060"/><polyline points="813,1242 1809,1215"/><polyline points="813,1242 650,1185"/>
<polyline points="1170,957 1158,1015"/><polyline points="1176,957 1180,1015 1180,1170"/><polyline points="1158,1015 1167,1072"/><polyline points="1167,1072 1162,1128"/>
<polyline points="1162,1128 1173,1185"/><polyline points="1290,957 1408,1015"/><polyline points="1408,1015 1443,1072"/><polyline points="1443,1072 1443,1128"/>
<polyline points="1443,1128 1293,1185"/><polyline points="1390,957 1390,1015 1362,1128"/><polyline points="1565,957 1565,1015"/><polyline points="1565,1015 1565,1072"/>
<polyline points="1356,1128 1356,1185"/><polyline points="1368,1128 1368,1185"/><polyline points="1356,1185 1356,1242"/><polyline points="1368,1185 1368,1242"/>
<polyline points="1293,1185 1293,1242"/><polyline points="1293,1242 1310,1298"/><polyline points="1208,1185 1208,1242"/><polyline points="1208,1242 1225,1298"/>
<polyline points="1220,1298 1220,1355"/><polyline points="1230,1298 1230,1355"/><polyline points="1225,1355 1217,1412"/><polyline points="1217,1412 1183,1468"/>
<polyline points="1183,1468 1188,1582"/><polyline points="1188,1582 1188,1638"/><polyline points="1188,1638 1188,1700 1765,1730 1757,1752"/>
<polyline points="1275,1298 1275,1355"/><polyline points="1270,1355 1270,1412"/><polyline points="1280,1355 1280,1412"/><polyline points="1310,1298 1310,1355"/>
<polyline points="1310,1355 1310,1412"/><polyline points="1310,1412 1315,1468"/><polyline points="1315,1468 1333,1525"/><polyline points="1333,1525 1545,1582"/>
<polyline points="1545,1582 1518,1638"/><polyline points="1545,1582 1532,1695"/><polyline points="1518,1638 1532,1695"/><polyline points="1545,1582 1772,1638"/>
<polyline points="1772,1638 1765,1695"/><polyline points="1765,1695 1757,1752"/><polyline points="1757,1752 1748,1808"/><polyline points="1793,1752 1787,1808"/>
<polyline points="1532,1695 1532,1780 1748,1808"/><polyline points="1497,1695 1500,1580 1545,1582"/><polyline points="1722,1468 1697,1525"/><polyline points="1722,1468 1730,1525"/>
<polyline points="1225,1298 1225,1110 1060,1100 1057,1072"/><polyline points="1443,1128 1600,1120 1600,1050 1660,905"/><polyline points="1565,1072 1565,1130 1443,1128"/>
<polyline points="1183,1468 1150,1440 1150,1020 1170,957"/><polyline points="1315,1468 1330,1400 1330,1060 1390,957"/><polyline points="1217,1412 1700,1380 1809,1370"/>
<polyline points="1315,1468 1722,1468"/><polyline points="1188,1582 1450,1600 1809,1560"/><polyline points="1188,1638 1809,1600"/>
<polyline points="1057,1072 1060,1140 1809,1160"/><polyline points="1173,1185 1208,1185"/>
<polyline points="1088,1130 1290,1240 1293,1242"/><polyline points="1097,675 1100,1130 1162,1128"/>
</g>
<g id="e1" class="R"><use href="#eT" x="47" y="50"/></g><g id="e2" class="R"><use href="#eT" x="293" y="50"/></g><g id="e3" class="R"><use href="#eT" x="848" y="50"/></g>
<g id="e4" class="R"><use href="#eS" x="53" y="105"/></g><g id="e5" class="R"><use href="#eH" x="88" y="105"/></g><g id="e6" class="R"><use href="#eC" x="602" y="105"/></g>
<g id="e7" class="Y"><use href="#eS" x="653" y="105"/></g><g id="e8" class="R"><use href="#eH" x="832" y="105"/></g><g id="e9" class="R"><use href="#eT" x="882" y="105"/></g>
<g id="e10" class="R"><use href="#eC" x="88" y="162"/></g><g id="e11" class="O"><use href="#eS" x="590" y="160"/></g><g id="e12" class="R"><use href="#eS" x="765" y="162"/></g><g id="e13" class="R"><use href="#eH" x="878" y="162"/></g>
<g id="e14" class="R"><use href="#eS" x="80" y="218"/></g><g id="e15" class="O"><use href="#eC" x="590" y="218"/></g><g id="e16" class="R"><use href="#eH" x="843" y="218"/></g><g id="e17" class="R"><use href="#eH" x="878" y="218"/></g>
<g id="e18" class="R"><use href="#eC" x="28" y="275"/></g><g id="e19" class="O"><use href="#eS" x="597" y="275"/></g><g id="e20" class="Y"><use href="#eS" x="838" y="275"/></g>
<g id="e21" class="R"><use href="#eS" x="22" y="332"/></g><g id="e22" class="R"><use href="#eD" x="175" y="332"/></g><g id="e23" class="O"><use href="#eC" x="583" y="332"/></g>
<g id="e24" class="R"><use href="#eC" x="85" y="390"/></g><g id="e25" class="R"><use href="#eC" x="383" y="390"/></g><g id="e26" class="O"><use href="#eC" x="592" y="390"/></g>
<g id="e27" class="R"><use href="#eS" x="85" y="447"/></g><g id="e28" class="R"><use href="#eS" x="245" y="447"/></g><g id="e29" class="R"><use href="#eC" x="340" y="447"/></g>
<g id="e30" class="R"><use href="#eC" x="380" y="447"/></g><g id="e31" class="R"><use href="#eC" x="438" y="447"/></g><g id="e32" class="O"><use href="#eS" x="563" y="447"/></g>
<g id="e33" class="O"><use href="#eD" x="600" y="447"/></g><g id="e34" class="O"><use href="#eS" x="782" y="447"/></g>
<g id="e35" class="R"><use href="#eC" x="85" y="503"/></g><g id="e36" class="R"><use href="#eC" x="247" y="503"/></g><g id="e37" class="R"><use href="#eS" x="316" y="503"/></g>
<g id="e38" class="R"><use href="#eS" x="350" y="503"/></g><g id="e39" class="R"><use href="#eD" x="450" y="503"/></g><g id="e40" class="O"><use href="#eS" x="575" y="503"/></g>
<g id="e41" class="O"><use href="#eC" x="610" y="503"/></g><g id="e42" class="M"><use href="#eD" x="763" y="503"/></g><g id="e43" class="O"><use href="#eS" x="810" y="503"/></g>
<g id="e44" class="R"><use href="#eD" x="55" y="560"/></g><g id="e45" class="R"><use href="#eH" x="90" y="560"/></g><g id="e46" class="R"><use href="#eS" x="250" y="560"/></g>
<g id="e47" class="R"><use href="#eC" x="316" y="560"/></g><g id="e48" class="R"><use href="#eS" x="418" y="560"/></g><g id="e49" class="O"><use href="#eS" x="545" y="560"/></g>
<g id="e50" class="L"><use href="#eA" x="673" y="563"/></g><g id="e51" class="O"><use href="#eH" x="810" y="560"/></g>
<g id="e52" class="R"><use href="#eA" x="65" y="620"/></g><g id="e53" class="R"><use href="#eA" x="125" y="620"/></g><g id="e54" class="R"><use href="#eC" x="200" y="617"/></g>
<g id="e55" class="R"><use href="#eC" x="316" y="617"/></g><g id="e56" class="R"><use href="#eH" x="418" y="617"/></g><g id="e57" class="L"><use href="#eC" x="682" y="617"/></g><g id="e58" class="O"><use href="#eS" x="822" y="617"/></g>
<g id="e59" class="R"><use href="#eA" x="55" y="677"/></g><g id="e60" class="R"><use href="#eC" x="138" y="675"/></g><g id="e61" class="R"><use href="#eA" x="198" y="677"/></g>
<g id="e62" class="R"><use href="#eA" x="275" y="677"/></g><g id="e63" class="R"><use href="#eC" x="418" y="675"/></g><g id="e64" class="R"><use href="#eA" x="490" y="677"/></g>
<g id="e65" class="L"><use href="#eS" x="627" y="675"/></g><g id="e66" class="L"><use href="#eC" x="673" y="675"/></g><g id="e67" class="M"><use href="#eD" x="848" y="673"/></g>
<g id="e68" class="R"><use href="#eA" x="222" y="734"/></g><g id="e69" class="R"><use href="#eC" x="273" y="732"/></g><g id="e70" class="R"><use href="#eH" x="418" y="732"/></g>
<g id="e71" class="M"><use href="#eS" x="528" y="732"/></g><g id="e72" class="L"><use href="#eS" x="627" y="732"/></g><g id="e73" class="L"><use href="#eD" x="662" y="732"/></g><g id="e74" class="M"><use href="#eC" x="873" y="732"/></g>
<g id="e75" class="R"><use href="#eC" x="237" y="788"/></g><g id="e76" class="R"><use href="#eC" x="273" y="788"/></g><g id="e77" class="M"><use href="#eD" x="428" y="788"/></g><g id="e78" class="M"><use href="#eD" x="558" y="788"/></g>
<g id="e79" class="R"><use href="#eD" x="265" y="845"/></g><g id="e80" class="M"><use href="#eD" x="298" y="845"/></g><g id="e81" class="M"><use href="#eD" x="418" y="845"/></g>
<g id="e82" class="M"><use href="#eA" x="507" y="847"/></g><g id="e83" class="M"><use href="#eC" x="545" y="845"/></g>
<g id="e84" class="R"><use href="#eC" x="178" y="902"/></g><g id="e85" class="M"><use href="#eS" x="293" y="902"/></g><g id="e86" class="M"><use href="#eS" x="507" y="902"/></g>
<g id="e87" class="M"><use href="#eS" x="557" y="902"/></g><g id="e88" class="L"><use href="#eS" x="605" y="902"/></g>
<g id="e89" class="R"><use href="#eT" x="1678" y="50"/></g><g id="e90" class="C"><use href="#eS" x="1675" y="105"/></g>
<g id="e91" class="C"><use href="#eA" x="1223" y="165"/></g><g id="e92" class="C"><use href="#eA" x="1233" y="222"/></g>
<g id="e93" class="Y"><use href="#eS" x="997" y="275"/></g><g id="e94" class="C"><use href="#eD" x="1228" y="275"/></g>
<g id="e95" class="Y"><use href="#eH" x="992" y="332"/></g><g id="e96" class="C"><use href="#eC" x="1130" y="332"/></g><g id="e97" class="C"><use href="#eD" x="1233" y="332"/></g>
<g id="e98" class="Y"><use href="#eS" x="993" y="388"/></g><g id="e99" class="C"><use href="#eS" x="1128" y="388"/></g><g id="e100" class="C"><use href="#eH" x="1233" y="388"/></g><g id="e101" class="C"><use href="#eC" x="1318" y="388"/></g>
<g id="e102" class="Y"><use href="#eS" x="993" y="447"/></g><g id="e103" class="C"><use href="#eS" x="1137" y="447"/></g><g id="e104" class="C"><use href="#eC" x="1225" y="447"/></g><g id="e105" class="R"><use href="#eC" x="1318" y="447"/></g>
<g id="e106" class="C"><use href="#eA" x="1573" y="505"/></g><g id="e107" class="G"><use href="#eA" x="1692" y="505"/></g>
<g id="e108" class="M"><use href="#eA" x="997" y="563"/></g><g id="e109" class="C"><use href="#eC" x="1478" y="560"/></g><g id="e110" class="C"><use href="#eC" x="1600" y="560"/></g><g id="e111" class="G"><use href="#eC" x="1700" y="560"/></g>
<g id="e112" class="M"><use href="#eS" x="997" y="617"/></g><g id="e113" class="C"><use href="#eD" x="1555" y="617"/></g><g id="e114" class="C"><use href="#eC" x="1600" y="617"/></g>
<g id="e115" class="G"><use href="#eS" x="1685" y="617"/></g><g id="e116" class="C"><use href="#eS" x="1718" y="617"/></g>
<g id="e117" class="M"><use href="#eA" x="1040" y="677"/></g><g id="e118" class="O"><use href="#eC" x="1097" y="675"/></g><g id="e119" class="C"><use href="#eH" x="1565" y="675"/></g>
<g id="e120" class="C"><use href="#eA" x="1608" y="677"/></g><g id="e121" class="G"><use href="#eS" x="1695" y="675"/></g>
<g id="e122" class="M"><use href="#eD" x="937" y="732"/></g><g id="e123" class="M"><use href="#eS" x="1027" y="732"/></g><g id="e124" class="M"><use href="#eS" x="1072" y="732"/></g>
<g id="e125" class="O"><use href="#eD" x="1107" y="732"/></g><g id="e126" class="C"><use href="#eD" x="1540" y="732"/></g><g id="e127" class="C"><use href="#eD" x="1577" y="732"/></g><g id="e128" class="G"><use href="#eH" x="1710" y="732"/></g>
<g id="e129" class="M"><use href="#eC" x="1027" y="788"/></g><g id="e130" class="M"><use href="#eC" x="1062" y="788"/></g><g id="e131" class="M"><use href="#eS" x="1123" y="788"/></g>
<g id="e132" class="M"><use href="#eH" x="1272" y="788"/></g><g id="e133" class="C"><use href="#eS" x="1527" y="788"/></g><g id="e134" class="G"><use href="#eC" x="1712" y="788"/></g>
<g id="e135" class="M"><use href="#eH" x="1272" y="845"/></g><g id="e136" class="C"><use href="#eC" x="1385" y="845"/></g><g id="e137" class="C"><use href="#eS" x="1565" y="845"/></g><g id="e138" class="G"><use href="#eC" x="1712" y="845"/></g>
<g id="e139" class="M"><use href="#eC" x="1272" y="902"/></g><g id="e140" class="C"><use href="#eC" x="1390" y="902"/></g><g id="e141" class="C"><use href="#eS" x="1565" y="902"/></g><g id="e142" class="G"><use href="#eA" x="1660" y="905"/></g>
<g id="e143" class="R"><use href="#eA" x="143" y="960"/></g><g id="e144" class="M"><use href="#eS" x="288" y="957"/></g><g id="e145" class="R"><use href="#eA" x="502" y="960"/></g>
<g id="e146" class="L"><use href="#eA" x="697" y="960"/></g><g id="e147" class="M"><use href="#eA" x="732" y="960"/></g><g id="e148" class="M"><use href="#eA" x="767" y="960"/></g>
<g id="e149" class="R"><use href="#eS" x="138" y="1015"/></g><g id="e150" class="M"><use href="#eA" x="283" y="1018"/></g><g id="e151" class="R"><use href="#eA" x="505" y="1017"/></g>
<g id="e152" class="L"><use href="#eA" x="692" y="1017"/></g><g id="e153" class="C"><use href="#eC" x="762" y="1015"/></g>
<g id="e154" class="R"><use href="#eH" x="138" y="1072"/></g><g id="e155" class="M"><use href="#eA" x="308" y="1074"/></g><g id="e156" class="M"><use href="#eC" x="594" y="1072"/></g>
<g id="e157" class="R"><use href="#eC" x="138" y="1128"/></g><g id="e158" class="L"><use href="#eC" x="622" y="1128"/></g><g id="e159" class="M"><use href="#eA" x="656" y="1130"/></g>
<g id="e160" class="M"><use href="#eD" x="650" y="1185"/></g><g id="e161" class="M"><use href="#eD" x="555" y="1242"/></g><g id="e162" class="M"><use href="#eA" x="813" y="1242"/></g>
<g id="e163" class="R"><use href="#eD" x="478" y="1298"/></g><g id="e164" class="M"><use href="#eC" x="555" y="1298"/></g><g id="e165" class="R"><use href="#eC" x="478" y="1355"/></g>
<g id="e166" class="R"><use href="#eC" x="832" y="1412"/></g><g id="e167" class="R"><use href="#eS" x="478" y="1468"/></g><g id="e168" class="R"><use href="#eC" x="472" y="1525"/></g>
<g id="e169" class="R"><use href="#eD" x="355" y="1582"/></g><g id="e170" class="R"><use href="#eC" x="400" y="1638"/></g>
<g id="e171" class="L"><use href="#eS" x="1170" y="957"/></g><g id="e172" class="L"><use href="#eC" x="1290" y="957"/></g><g id="e173" class="C"><use href="#eH" x="1390" y="957"/></g><g id="e174" class="C"><use href="#eS" x="1565" y="957"/></g>
<g id="e175" class="L"><use href="#eS" x="1158" y="1015"/></g><g id="e176" class="L"><use href="#eS" x="1408" y="1015"/></g><g id="e177" class="C"><use href="#eC" x="1565" y="1015"/></g>
<g id="e178" class="M"><use href="#eC" x="1057" y="1072"/></g><g id="e179" class="L"><use href="#eC" x="1167" y="1072"/></g><g id="e180" class="G"><use href="#eS" x="1443" y="1072"/></g><g id="e181" class="C"><use href="#eC" x="1565" y="1072"/></g>
<g id="e182" class="L"><use href="#eA" x="1162" y="1130"/></g><g id="e183" class="M"><use href="#eD" x="1362" y="1128"/></g><g id="e184" class="G"><use href="#eC" x="1443" y="1128"/></g>
<g id="e185" class="L"><use href="#eC" x="1173" y="1185"/></g><g id="e186" class="M"><use href="#eD" x="1208" y="1185"/></g><g id="e187" class="L"><use href="#eS" x="1293" y="1185"/></g><g id="e188" class="M"><use href="#eC" x="1362" y="1185"/></g>
<g id="e189" class="M"><use href="#eC" x="1208" y="1242"/></g><g id="e190" class="G"><use href="#eS" x="1293" y="1242"/></g><g id="e191" class="M"><use href="#eC" x="1362" y="1242"/></g>
<g id="e192" class="M"><use href="#eD" x="1225" y="1298"/></g><g id="e193" class="C"><use href="#eC" x="1275" y="1298"/></g><g id="e194" class="G"><use href="#eS" x="1310" y="1298"/></g>
<g id="e195" class="M"><use href="#eC" x="1177" y="1355"/></g><g id="e196" class="M"><use href="#eH" x="1225" y="1355"/></g><g id="e197" class="G"><use href="#eH" x="1275" y="1355"/></g><g id="e198" class="C"><use href="#eD" x="1310" y="1355"/></g>
<g id="e199" class="C"><use href="#eC" x="1217" y="1412"/></g><g id="e200" class="G"><use href="#eC" x="1275" y="1412"/></g><g id="e201" class="C"><use href="#eS" x="1310" y="1412"/></g>
<g id="e202" class="G"><use href="#eS" x="1183" y="1468"/></g><g id="e203" class="C"><use href="#eC" x="1315" y="1468"/></g><g id="e204" class="G"><use href="#eS" x="1722" y="1468"/></g>
<g id="e205" class="Y"><use href="#eS" x="1333" y="1525"/></g><g id="e206" class="C"><use href="#eD" x="1697" y="1525"/></g><g id="e207" class="C"><use href="#eC" x="1730" y="1525"/></g>
<g id="e208" class="L"><use href="#eD" x="1188" y="1582"/></g><g id="e209" class="O"><use href="#eS" x="1545" y="1582"/></g>
<g id="e210" class="G"><use href="#eC" x="1188" y="1638"/></g><g id="e211" class="O"><use href="#eD" x="1518" y="1638"/></g><g id="e212" class="L"><use href="#eA" x="1772" y="1640"/></g>
<g id="e213" class="M"><use href="#eD" x="1497" y="1695"/></g><g id="e214" class="O"><use href="#eS" x="1532" y="1695"/></g><g id="e215" class="L"><use href="#eD" x="1765" y="1695"/></g>
<g id="e216" class="G"><use href="#eA" x="1757" y="1755"/></g><g id="e217" class="M"><use href="#eS" x="1793" y="1752"/></g>
<g id="e218" class="C"><use href="#eS" x="1748" y="1808"/></g><g id="e219" class="C"><use href="#eS" x="1787" y="1808"/></g>
</g>

<g id="captions">
<text class="cap" x="40" y="574" textLength="160" lengthAdjust="spacingAndGlyphs">(a) Iteration 0</text>
<text class="cap" x="365" y="574" textLength="181" lengthAdjust="spacingAndGlyphs">(b) Iteration 20</text>
<text class="cap" x="778" y="574" textLength="179" lengthAdjust="spacingAndGlyphs">(c) Iteration 50</text>
<text class="cap" x="96" y="1253" textLength="195" lengthAdjust="spacingAndGlyphs">(d) Iteration 100</text>
<text class="cap" x="660" y="1253" textLength="192" lengthAdjust="spacingAndGlyphs">(e) Iteration 200</text>
</g>
</svg>
